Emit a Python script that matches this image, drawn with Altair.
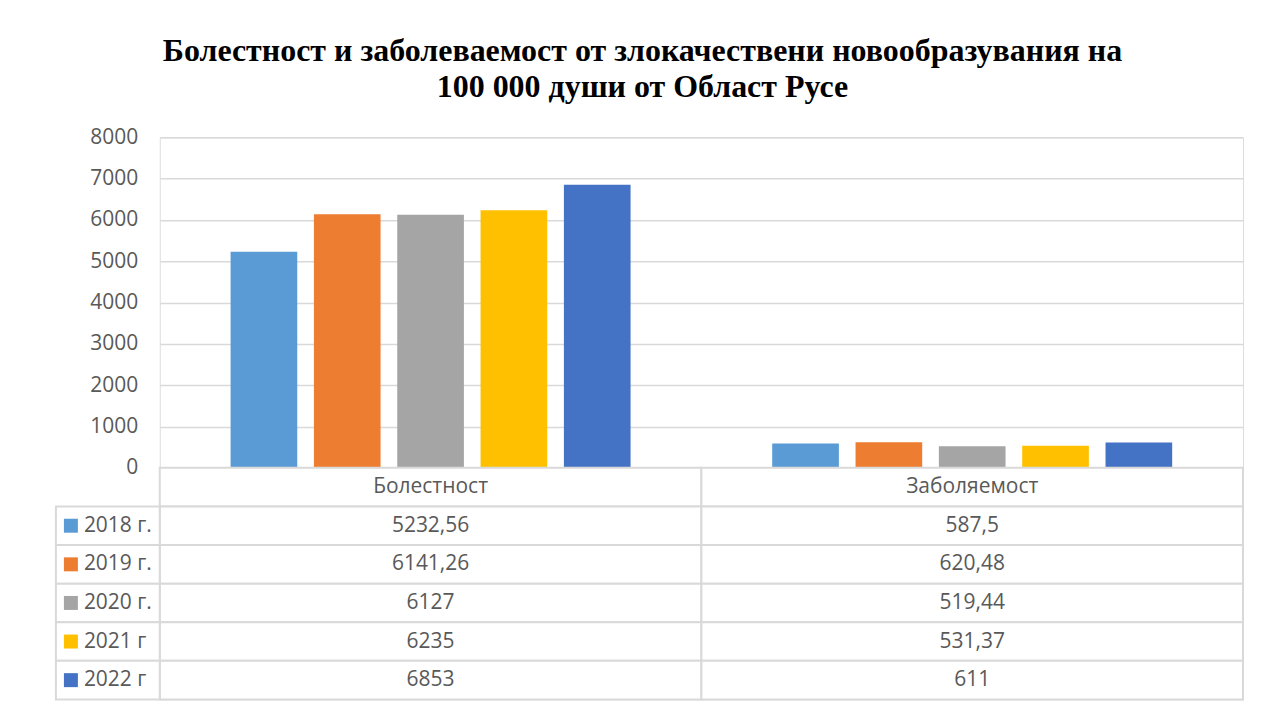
import altair as alt
import pandas as pd

categories = ["Болестност", "Заболяемост"]
years = ["2018 г.", "2019 г.", "2020 г.", "2021 г", "2022 г"]
bolestnost = [5232.56, 6141.26, 6127, 6235, 6853]
zabolyaemost = [587.5, 620.48, 519.44, 531.37, 611]
colors = ["#5B9BD5", "#ED7D31", "#A5A5A5", "#FFC000", "#4472C4"]
y_ticks = [0, 1000, 2000, 3000, 4000, 5000, 6000, 7000, 8000]
title_lines = ["Болестност и заболеваемост от злокачествени новообразувания на",
               "100 000 души от Област Русе"]

W = 1085
H = 331
TABLE_H = 232
LEFT_COL = 104
FONT = "Open Sans"
FS = 21
GRAY = "#595959"
LINE = "#d9d9d9"


def fmt(v):
    return f"{v:g}".replace(".", ",")


rows = []
for i, yr in enumerate(years):
    for cat, vals in zip(categories, [bolestnost, zabolyaemost]):
        rows.append({"year": yr, "category": cat, "value": vals[i], "label": fmt(vals[i])})
df = pd.DataFrame(rows)

table_rows = [{"row": "header", "category": c, "label": c} for c in categories]
table_rows += [{"row": r["year"], "category": r["category"], "label": r["label"]} for r in rows]
df_table = pd.DataFrame(table_rows)
df_left = pd.DataFrame({"year": years, "row": years})

color_scale = alt.Scale(domain=years, range=colors)
x_scale = alt.Scale(domain=categories, paddingInner=0, paddingOuter=0)
row_scale = alt.Scale(domain=["header"] + years, paddingInner=0, paddingOuter=0)

bars = alt.Chart(df).mark_bar().encode(
    x=alt.X("category:N", scale=x_scale, axis=None, sort=categories),
    xOffset=alt.XOffset("year:N", sort=years,
                        scale=alt.Scale(domain=years, paddingInner=0.2, paddingOuter=0.85)),
    y=alt.Y("value:Q", scale=alt.Scale(domain=[0, 8000]),
            axis=alt.Axis(values=y_ticks, format="d", title=None, grid=True, gridColor=LINE,
                          gridWidth=1.5, domain=False, ticks=False, labelPadding=22,
                          labelFontSize=FS, labelColor=GRAY, labelFont=FONT)),
    color=alt.Color("year:N", scale=color_scale, legend=None),
).properties(width=W, height=H)

cells = alt.Chart(df_table).mark_rect(fill="white", stroke=LINE, strokeWidth=2).encode(
    x=alt.X("category:N", scale=x_scale, axis=None, sort=categories),
    y=alt.Y("row:N", scale=row_scale, axis=None),
)
cell_text = alt.Chart(df_table).mark_text(font=FONT, fontSize=FS, color=GRAY).encode(
    x=alt.X("category:N", scale=x_scale, axis=None, sort=categories),
    y=alt.Y("row:N", scale=row_scale, axis=None),
    text="label:N",
)
left_cells = alt.Chart(df_left).mark_rect(fill="white", stroke=LINE, strokeWidth=2).encode(
    x=alt.value(-LEFT_COL), x2=alt.value(0),
    y=alt.Y("row:N", scale=row_scale, axis=None),
)
left_squares = alt.Chart(df_left).mark_square(size=196, opacity=1).encode(
    x=alt.value(-LEFT_COL + 15),
    y=alt.Y("row:N", scale=row_scale, axis=None),
    color=alt.Color("year:N", scale=color_scale, legend=None),
)
left_text = alt.Chart(df_left).mark_text(font=FONT, fontSize=FS, color=GRAY, align="left").encode(
    x=alt.value(-LEFT_COL + 28),
    y=alt.Y("row:N", scale=row_scale, axis=None),
    text="year:N",
)

table = alt.layer(cells, left_cells, cell_text, left_squares, left_text).properties(
    width=W, height=TABLE_H)

chart = alt.vconcat(bars, table, spacing=0, bounds="flush").properties(
    title=alt.TitleParams(title_lines, font="Liberation Serif", fontSize=32, fontWeight="bold",
                          color="black", anchor="middle", offset=22, lineHeight=36, dx=-7),
    padding={"left": 46, "top": 26, "right": 10, "bottom": 5},
).configure_view(stroke=None).configure(background="white")

chart.save("out.html", embed_options={"renderer": "svg", "actions": False})
